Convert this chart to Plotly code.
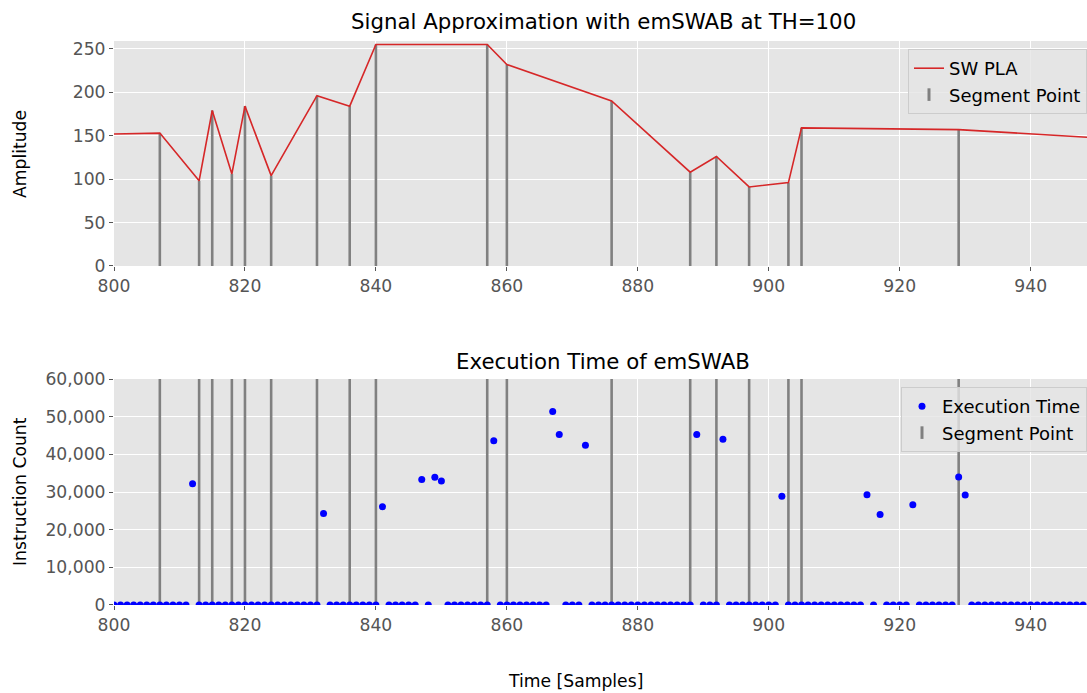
import plotly.graph_objects as go

# ---------------- data ----------------
# Piecewise linear approximation (vertices)
pla_x = [800, 807, 813, 815, 818, 820, 824, 831, 836, 840, 857, 860, 876,
         888, 892, 897, 903, 905, 929, 949]
pla_y = [152, 153, 98, 179, 106, 184, 104, 196, 184, 255, 255, 232, 190,
         108, 126, 91, 96, 159, 157, 148]

# Segment points (subset of the vertices)
seg_x = [807, 813, 815, 818, 820, 824, 831, 836, 840, 857, 860, 876,
         888, 892, 897, 903, 905, 929]

# Execution time: non-zero samples (all other samples are ~0)
exec_hi_x = [812, 832, 841, 847, 849, 850, 858, 867, 868, 872, 889, 893,
             902, 915, 917, 922, 929, 930]
exec_hi_y = [32200, 24300, 26100, 33300, 33900, 32900, 43600, 51400, 45300,
             42400, 45300, 44000, 28900, 29300, 24000, 26600, 34000, 29200]
sample_start, sample_end = 800, 948

x_ticks = [800, 820, 840, 860, 880, 900, 920, 940]

# ---------------- derived ----------------
hi_map = dict(zip(exec_hi_x, exec_hi_y))
exec_x = list(range(sample_start, sample_end + 1))
exec_y = [hi_map.get(s, 0) for s in exec_x]
pla_map = dict(zip(pla_x, pla_y))
seg_h = [pla_map[s] for s in seg_x]

GRAY = "#808080"
RED = "#d62728"
FONT = "DejaVu Sans"
TICK_SIZE = 17.2
LEG_SIZE = 18
LABEL_SIZE = 17.2
TITLE_SIZE = 21.3

# vertical segment lines in top panel (0 -> value)
vx_top, vy_top = [], []
for s, h in zip(seg_x, seg_h):
    vx_top += [s, s, None]
    vy_top += [0, h, None]
# full-height segment lines in bottom panel
vx_bot, vy_bot = [], []
for s in seg_x:
    vx_bot += [s, s, None]
    vy_bot += [0, 60000, None]

fig = go.Figure()
fig.add_trace(go.Scatter(x=vx_top, y=vy_top, mode="lines",
                         line=dict(color=GRAY, width=2.6), showlegend=False,
                         xaxis="x", yaxis="y", hoverinfo="skip"))
fig.add_trace(go.Scatter(x=pla_x, y=pla_y, mode="lines", name="SW PLA",
                         line=dict(color=RED, width=1.6),
                         xaxis="x", yaxis="y", legend="legend"))
fig.add_trace(go.Scatter(x=[None], y=[None], mode="markers", name="Segment Point",
                         marker=dict(symbol="line-ns", size=9,
                                     line=dict(color=GRAY, width=3)),
                         xaxis="x", yaxis="y", legend="legend"))

fig.add_trace(go.Scatter(x=vx_bot, y=vy_bot, mode="lines",
                         line=dict(color=GRAY, width=2.6), showlegend=False,
                         xaxis="x2", yaxis="y2", hoverinfo="skip"))
fig.add_trace(go.Scatter(x=exec_x, y=exec_y, mode="markers", name="Execution Time",
                         marker=dict(color="#0000ff", size=7),
                         xaxis="x2", yaxis="y2", legend="legend2"))
fig.add_trace(go.Scatter(x=[None], y=[None], mode="markers", name="Segment Point",
                         marker=dict(symbol="line-ns", size=9,
                                     line=dict(color=GRAY, width=3)),
                         xaxis="x2", yaxis="y2", legend="legend2"))

axis_common = dict(showgrid=True, gridcolor="white", gridwidth=1.2,
                   zeroline=False, showline=False, ticks="outside", ticklen=4,
                   tickcolor="#555555", tickwidth=1,
                   tickfont=dict(family=FONT, size=TICK_SIZE, color="#555555"))

legend_common = dict(x=1, xanchor="right", yanchor="top",
                     bgcolor="rgba(229,229,229,0.8)", bordercolor="#cccccc",
                     borderwidth=1, tracegroupgap=0,
                     font=dict(family=FONT, size=LEG_SIZE, color="black"))

fig.update_layout(
    width=1087, height=693,
    margin=dict(l=114, r=0, t=41, b=88),
    paper_bgcolor="white", plot_bgcolor="#E5E5E5",
    font=dict(family=FONT, color="black"),
    xaxis=dict(domain=[0, 1], anchor="y", range=[800, 948.6],
               tickvals=x_ticks, **axis_common),
    yaxis=dict(domain=[0.6011, 1], anchor="x", range=[0, 259],
               tickvals=[0, 50, 100, 150, 200, 250], **axis_common),
    xaxis2=dict(domain=[0, 1], anchor="y2", range=[800, 948.6],
                tickvals=x_ticks, **axis_common),
    yaxis2=dict(domain=[0, 0.4007], anchor="x2", range=[0, 60000],
                tickvals=[0, 10000, 20000, 30000, 40000, 50000, 60000],
                tickformat=",d", **axis_common),
    legend=dict(y=0.9858, **legend_common),
    legend2=dict(y=0.3865, **legend_common),
    annotations=[
        dict(text="Signal Approximation with emSWAB at TH=100", xref="paper",
             yref="paper", x=0.5026, y=1.0337, xanchor="center", yanchor="middle",
             showarrow=False, font=dict(family=FONT, size=TITLE_SIZE, color="black")),
        dict(text="Execution Time of emSWAB", xref="paper", yref="paper",
             x=0.5026, y=0.4309, xanchor="center", yanchor="middle",
             showarrow=False, font=dict(family=FONT, size=TITLE_SIZE, color="black")),
        dict(text="Amplitude", xref="paper", yref="paper", x=-0.0966,
             y=(605 - 154) / 564, xanchor="center", yanchor="middle",
             textangle=-90, showarrow=False,
             font=dict(family=FONT, size=LABEL_SIZE, color="black")),
        dict(text="Instruction Count", xref="paper", yref="paper", x=-0.0966,
             y=(605 - 492) / 564, xanchor="center", yanchor="middle",
             textangle=-90, showarrow=False,
             font=dict(family=FONT, size=LABEL_SIZE, color="black")),
        dict(text="Time [Samples]", xref="paper", yref="paper", x=0.4748,
             y=(605 - 681) / 564, xanchor="center", yanchor="middle",
             showarrow=False, font=dict(family=FONT, size=LABEL_SIZE, color="black")),
    ],
)

fig.write_html("out.html")
